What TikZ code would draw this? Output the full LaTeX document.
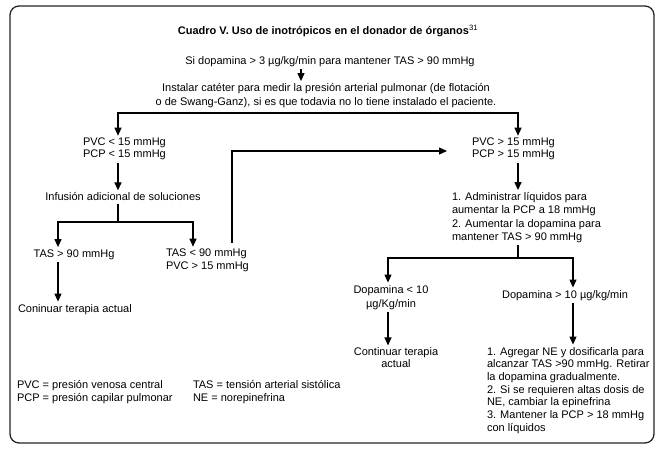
\documentclass[tikz,border=0pt]{standalone}
\usepackage{fontspec}
\setmainfont{Liberation Sans}
\usetikzlibrary{arrows.meta}

\begin{document}
\begin{tikzpicture}[x=1pt,y=-1pt,
  every node/.style={font=\fontsize{11}{13}\selectfont, inner sep=0pt, outer sep=2.5pt},
  arr/.style={line width=1.2pt, -{Triangle[length=8pt,width=7pt]}},
  ln/.style={line width=1.2pt}]

\useasboundingbox (0,0) rectangle (665,449);
\fill[white] (0,0) rectangle (665,449);

% frame
\draw[line width=1.3pt, rounded corners=9pt, black!85] (10,6) rectangle (654,443);

% texts
\node[font=\fontsize{11}{13}\selectfont\bfseries] (title) at (328,30.5)
  {Cuadro V. Uso de inotrópicos en el donador de órganos\textsuperscript{\mdseries 31}};
\node (dopa) at (330,61.2) {Si dopamina > 3 µg/kg/min para mantener TAS > 90 mmHg};
\node[font=\fontsize{11}{14}\selectfont, align=center] (cat) at (326,95.8)
  {Instalar catéter para medir la presión arterial pulmonar (de flotación\\o de Swang-Ganz), si es que todavia no lo tiene instalado el paciente.};
\node[font=\fontsize{11}{12}\selectfont, align=left, anchor=west] (lowL) at (80.5,149.2) {PVC < 15 mmHg\\PCP < 15 mmHg};
\node[font=\fontsize{11}{12}\selectfont, align=left, anchor=west] (highR) at (469.5,149.2) {PVC > 15 mmHg\\PCP > 15 mmHg};
\node (inf) at (123,197) {Infusión adicional de soluciones};
\node (tasA) at (74,254.6) {TAS > 90 mmHg};
\node[align=left, anchor=west] (tasB) at (163.5,260.7) {TAS < 90 mmHg\\PVC > 15 mmHg};
\node[anchor=west] (cont1) at (15.5,309.2) {Coninuar terapia actual};
\node[font=\fontsize{11}{13.3}\selectfont, align=left, anchor=west] (admin) at (449.5,217.7)
  {1. Administrar líquidos para\\aumentar la PCP a 18 mmHg\\2. Aumentar la dopamina para\\mantener TAS > 90 mmHg};
\node[font=\fontsize{11}{14}\selectfont, align=center] (dopLow) at (391,297.2) {Dopamina < 10\\µg/Kg/min};
\node (dopHigh) at (565,295.2) {Dopamina > 10 µg/kg/min};
\node[font=\fontsize{11}{12}\selectfont, align=center] (cont2) at (396,358) {Continuar terapia\\actual};
\node[font=\fontsize{11}{12.67}\selectfont, align=left, anchor=west] (ne) at (484.5,390.2)
  {1. Agregar NE y dosificarla para\\alcanzar TAS >90 mmHg. Retirar\\la dopamina gradualmente.\\2. Si se requieren altas dosis de\\NE, cambiar la epinefrina\\3. Mantener la PCP > 18 mmHg\\con líquidos};
\node[align=left, anchor=west] (legA) at (14.5,392.2) {PVC = presión venosa central\\PCP = presión capilar pulmonar};
\node[align=left, anchor=west] (legB) at (190.5,392.2) {TAS = tensión arterial sistólica\\NE = norepinefrina};

% columns and joints
\coordinate (colS) at (301,0);
\coordinate (colL) at (118,0);
\coordinate (colR) at (518,0);
\coordinate (colA) at (58,0);
\coordinate (colB) at (193,0);
\coordinate (colT) at (232,0);
\coordinate (colD) at (388,0);
\coordinate (colH) at (573,0);
\coordinate (j1) at (326,113);
\coordinate (j2) at (118,222);
\coordinate (j3) at (518,258);
\coordinate (tipR) at (447,151);

% arrows
\draw[arr] (colS |- dopa.south) -- (colS |- cat.north);
\draw[arr] (j1) -| (colL |- lowL.north);
\draw[arr] (j1) -| (colR |- highR.north);
\draw[arr] (colL |- lowL.south) -- (colL |- inf.north);
\draw[ln] (colL |- inf.south) -- (j2);
\draw[arr] (j2) -| (colA |- tasA.north);
\draw[arr] (j2) -| (colB |- tasB.north);
\draw[arr] (colA |- tasA.south) -- (colA |- cont1.north);
\draw[arr] ([yshift=4pt]colT |- tasB.north) |- (tipR);
\draw[arr] (colR |- highR.south) -- (colR |- admin.north);
\draw[ln] (colR |- admin.south) -- (j3);
\draw[arr] (j3) -| (colD |- dopLow.north);
\draw[arr] (j3) -| (colH |- dopHigh.north);
\draw[arr] (colD |- dopLow.south) -- (colD |- cont2.north);
\draw[arr] (colH |- dopHigh.south) -- (colH |- ne.north);

\end{tikzpicture}
\end{document}
